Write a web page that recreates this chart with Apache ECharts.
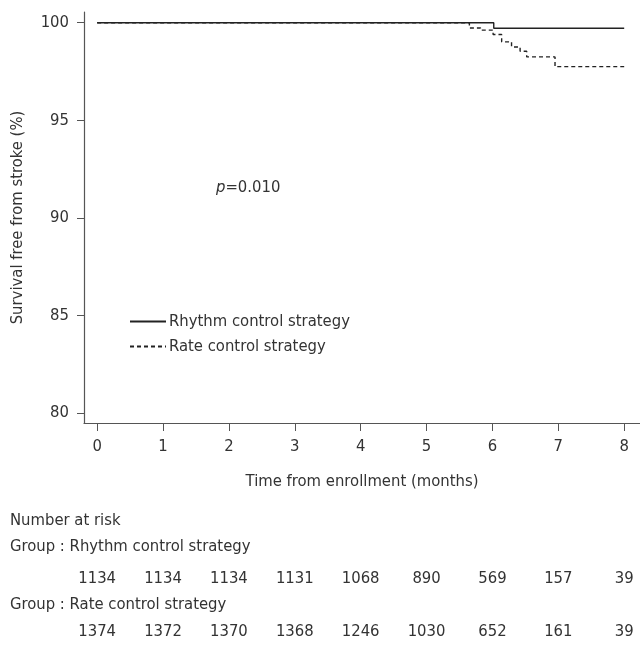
<!DOCTYPE html>
<html>
<head>
<meta charset="utf-8">
<script src="https://cdn.jsdelivr.net/npm/echarts@6/dist/echarts.min.js"></script>
<style>
  html, body { margin: 0; padding: 0; background: #fff; }
  #main { width: 640px; height: 649px; }
</style>
</head>
<body>
<div id="main"></div>
<script>
const FONT = "'Liberation Sans Narrow', 'DejaVu Sans Condensed', sans-serif";
const FS = 16.5;
const TXT = "#333";

// Kaplan-Meier steps
const rhythmTimes = [0, 6.02, 8];
const rhythmSurv = [100, 99.72, 99.72];
const rateTimes = [0, 5.65, 5.82, 6.01, 6.14, 6.29, 6.42, 6.52, 6.95, 8];
const rateSurv = [100, 99.73, 99.62, 99.4, 99.02, 98.76, 98.54, 98.25, 97.75, 97.75];

const months = [0, 1, 2, 3, 4, 5, 6, 7, 8];
const yTicks = [80, 85, 90, 95, 100];
const rhythmAtRisk = [1134, 1134, 1134, 1131, 1068, 890, 569, 157, 39];
const rateAtRisk = [1374, 1372, 1370, 1368, 1246, 1030, 652, 161, 39];

const pairs = (xs, ys) => xs.map((x, i) => [x, ys[i]]);

const myChart = echarts.init(document.getElementById("main"));

// extra hidden axes used only to place the at-risk counts under each month
const riskAxis = (counts, offset) => ({
  type: "value",
  position: "bottom",
  min: -0.2,
  max: 8.24,
  offset: offset,
  axisLine: { show: false, onZero: false },
  axisTick: { show: false },
  splitLine: { show: false },
  axisLabel: {
    customValues: months,
    margin: 8,
    fontSize: FS,
    fontFamily: FONT,
    color: TXT,
    formatter: (v) => {
      const i = months.indexOf(Math.round(v));
      return i >= 0 ? String(counts[i]) : "";
    },
  },
});

const options = {
  animation: false,
  textStyle: { fontFamily: FONT, color: TXT },
  grid: { left: 84, top: 12, right: 0, bottom: 226, containLabel: false },
  legend: {
    orient: "vertical",
    left: 129,
    top: 313,
    padding: 0,
    itemWidth: 36,
    itemHeight: 12,
    itemGap: 8,
    itemStyle: { opacity: 0 },
    textStyle: { fontSize: FS, fontFamily: FONT, color: TXT, padding: [0, 0, 0, -2] },
    data: ["Rhythm control strategy", "Rate control strategy"],
  },
  xAxis: [
    {
      type: "value",
      min: -0.2,
      max: 8.24,
      name: "Time from enrollment (months)",
      nameLocation: "middle",
      nameGap: 50,
      nameTextStyle: { fontSize: FS, fontFamily: FONT, color: TXT },
      axisLine: { onZero: false, lineStyle: { color: "#555", width: 1.2 } },
      axisTick: { customValues: months, length: 8, lineStyle: { color: "#555" } },
      axisLabel: { customValues: months, margin: 15, fontSize: FS, fontFamily: FONT, color: TXT },
      splitLine: { show: false },
    },
    riskAxis(rhythmAtRisk, 139),
    riskAxis(rateAtRisk, 192),
  ],
  yAxis: {
    type: "value",
    min: 79.49,
    max: 100.55,
    name: "Survival free from stroke (%)",
    nameLocation: "middle",
    nameGap: 58,
    nameTextStyle: { fontSize: FS, fontFamily: FONT, color: TXT },
    axisLine: { show: true, onZero: false, lineStyle: { color: "#555", width: 1.2 } },
    axisTick: { show: true, customValues: yTicks, length: 7, lineStyle: { color: "#555" } },
    axisLabel: { customValues: yTicks, margin: 15, fontSize: FS, fontFamily: FONT, color: TXT },
    splitLine: { show: false },
  },
  graphic: [
    {
      type: "text",
      left: 216,
      top: 179,
      style: {
        text: "{i|p}=0.010",
        font: FS + "px " + FONT,
        fill: TXT,
        rich: { i: { fontStyle: "italic", fontSize: FS, fontFamily: FONT, fill: TXT } },
      },
    },
    { type: "text", left: 10, top: 512, style: { text: "Number at risk", font: FS + "px " + FONT, fill: TXT } },
    { type: "text", left: 10, top: 538, style: { text: "Group : Rhythm control strategy", font: FS + "px " + FONT, fill: TXT } },
    { type: "text", left: 10, top: 596, style: { text: "Group : Rate control strategy", font: FS + "px " + FONT, fill: TXT } },
  ],
  series: [
    {
      name: "Rhythm control strategy",
      type: "line",
      step: "end",
      showSymbol: false,
      symbol: "none",
      data: pairs(rhythmTimes, rhythmSurv),
      lineStyle: { color: "#222", width: 1.4, type: "solid" },
      itemStyle: { color: "#222" },
    },
    {
      name: "Rate control strategy",
      type: "line",
      step: "end",
      showSymbol: false,
      symbol: "none",
      data: pairs(rateTimes, rateSurv),
      lineStyle: { color: "#222", width: 1.4, type: [4, 3] },
      itemStyle: { color: "#222" },
    },
  ],
};

myChart.setOption(options);
</script>
</body>
</html>
